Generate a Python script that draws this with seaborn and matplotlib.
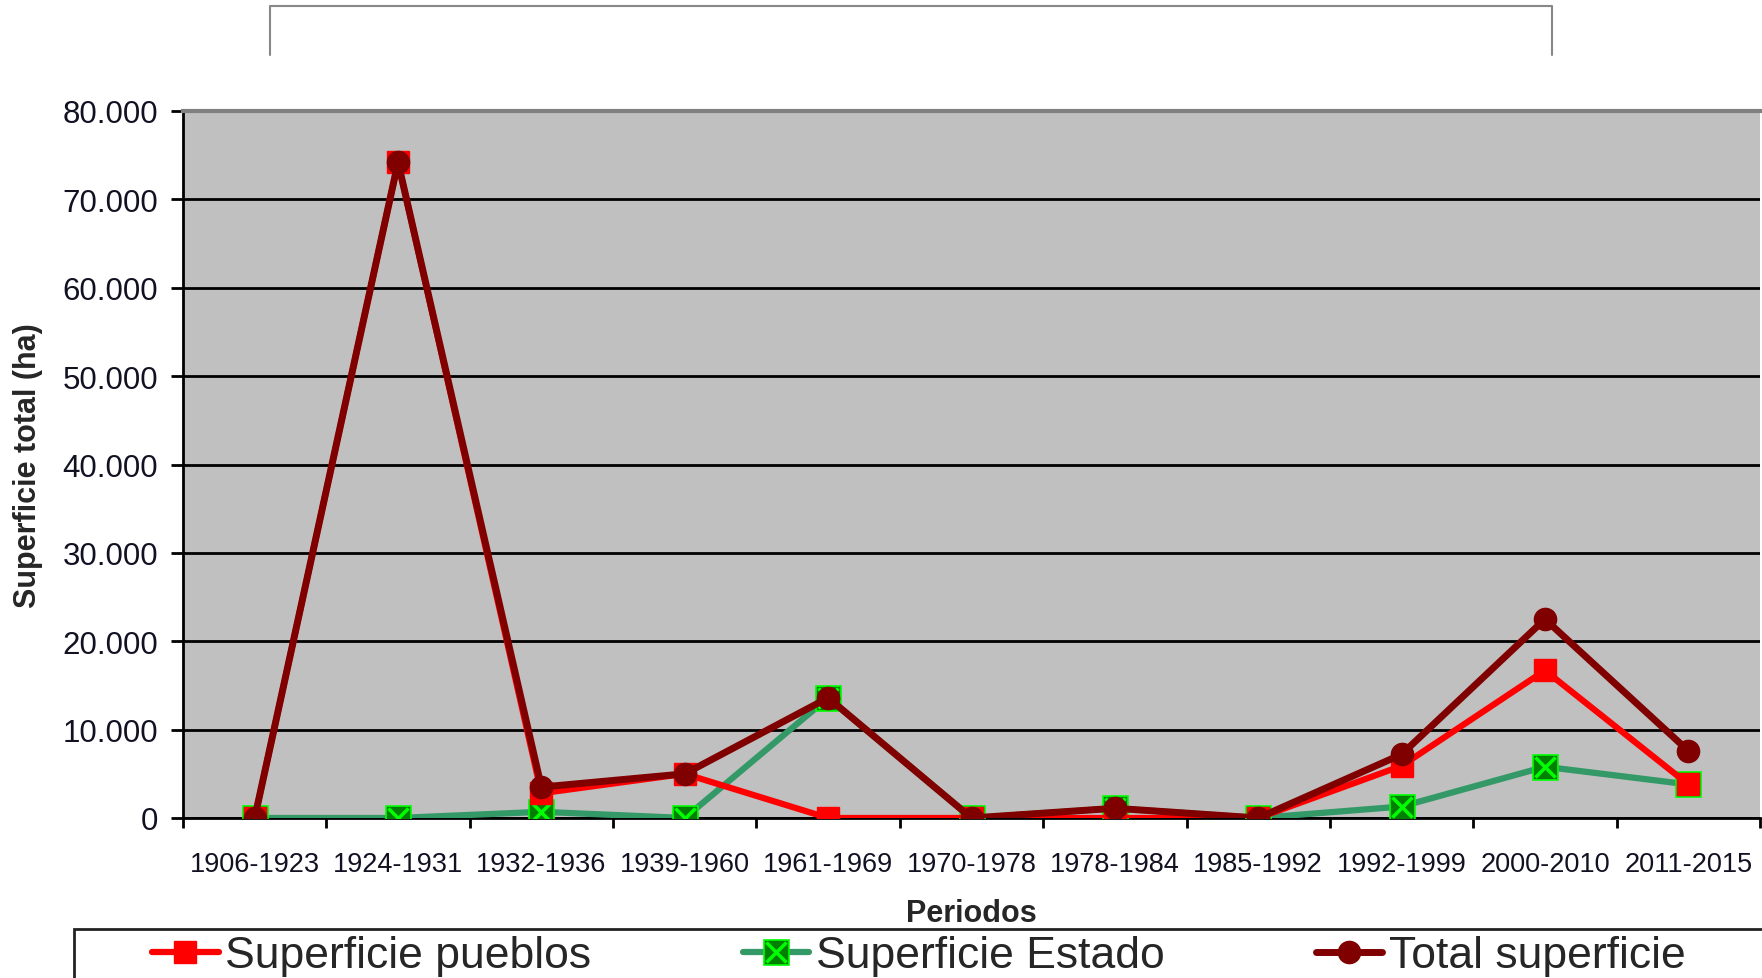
import numpy as np
import pandas as pd
import matplotlib
matplotlib.use('Agg')
import matplotlib.pyplot as plt
import seaborn as sns
from matplotlib.lines import Line2D
from matplotlib.patches import Rectangle
from matplotlib.ticker import FuncFormatter, MultipleLocator, FixedLocator
from matplotlib.legend_handler import HandlerTuple

periodos = ['1906-1923', '1924-1931', '1932-1936', '1939-1960', '1961-1969',
            '1970-1978', '1978-1984', '1985-1992', '1992-1999', '2000-2010',
            '2011-2015']
sup_pueblos = [0, 74200, 2800, 5000, 0, 0, 0, 0, 5900, 16700, 3800]
sup_estado = [0, 0, 700, 0, 13600, 0, 1100, 0, 1300, 5800, 3800]
total_sup = [0, 74200, 3500, 5000, 13600, 0, 1100, 0, 7200, 22500, 7600]

df = pd.DataFrame({
    'pos': np.arange(len(periodos)),
    'pueblos': sup_pueblos,
    'estado': sup_estado,
    'total': total_sup,
})

sns.set_theme(style='white')
plt.rcParams['font.family'] = ['Liberation Sans', 'DejaVu Sans']

W, H = 1762, 979
fig = plt.figure(figsize=(W / 100, H / 100), dpi=100)
ax = fig.add_axes([183 / W, 1 - 819 / H, (1760 - 183) / W, (819 - 112) / H])
ax.set_facecolor('#C0C0C0')

# Superficie Estado: dark green square with a bright green cross
sns.lineplot(data=df, x='pos', y='estado', ax=ax, color='#339966', lw=4.5,
             marker='s', ms=18, mfc='#008000', mec='#00FF00', mew=1.2, zorder=3)
est_line = ax.lines[-1]
sns.lineplot(data=df, x='pos', y='estado', ax=ax, color='#00FF00',
             linestyle='none', marker='x', ms=15, mec='#00FF00', mew=2.5, zorder=3.1)
est_x = ax.lines[-1]

sns.lineplot(data=df, x='pos', y='pueblos', ax=ax, color='#FF0000', lw=4.5,
             marker='s', ms=16.5, mfc='#FF0000', mec='#FF0000', mew=1, zorder=4)
pue_line = ax.lines[-1]

sns.lineplot(data=df, x='pos', y='total', ax=ax, color='#800000', lw=5,
             marker='o', ms=16, mfc='#800000', mec='#800000', mew=1, zorder=5)
tot_line = ax.lines[-1]

ax.set_xlim(-0.5, len(periodos) - 0.5)
ax.set_ylim(0, 80000)
ax.set_xticks(df['pos'])
ax.set_xticklabels(periodos)
ax.xaxis.set_minor_locator(FixedLocator(np.arange(-0.5, len(periodos), 1)))
ax.yaxis.set_major_locator(MultipleLocator(10000))
ax.yaxis.set_major_formatter(
    FuncFormatter(lambda v, p: f'{v:,.0f}'.replace(',', '.')))

ax.tick_params(axis='x', which='major', length=0, pad=24, labelsize=19.5,
               labelcolor='#111122')
ax.tick_params(axis='x', which='minor', length=7, width=2, color='black',
               direction='out', bottom=True)
ax.tick_params(axis='y', length=9, width=2, color='black', direction='out',
               left=True, pad=9, labelsize=22.5, labelcolor='#111122')

ax.grid(axis='y', color='black', lw=2)
ax.set_axisbelow(True)

for side in ['left', 'bottom']:
    ax.spines[side].set_color('black')
    ax.spines[side].set_linewidth(2)
ax.spines['top'].set_color('#808080')
ax.spines['top'].set_linewidth(3)
ax.spines['right'].set_visible(False)

ax.set_xlabel('Periodos', fontsize=22, fontweight='bold')
ax.set_ylabel('Superficie total (ha)', fontsize=22, fontweight='bold')
ax.xaxis.set_label_coords(0.5, -0.113)
ax.yaxis.set_label_coords(-0.0888, 0.5)

# open box at the top of the figure
fig.add_artist(Line2D([270 / W, 270 / W, 1552 / W, 1552 / W],
                      [1 - 56 / H, 1 - 7 / H, 1 - 7 / H, 1 - 56 / H],
                      color='#888888', lw=1.5))

# legend frame, cut by the figure border
fig.add_artist(Rectangle((74 / W, -0.2), 1.0, 0.2 + 1 - 930 / H,
                         transform=fig.transFigure, facecolor='white',
                         edgecolor='#222222', lw=2, clip_on=False))

fig.legend(handles=[pue_line, (est_line, est_x), tot_line],
           labels=['Superficie pueblos', 'Superficie Estado', 'Total superficie'],
           handler_map={tuple: HandlerTuple(ndivide=1, pad=0)},
           loc='center left', bbox_to_anchor=(152 / W, 1 - 957 / H), ncol=3,
           frameon=False, fontsize=32, handlelength=1.5, handletextpad=0.15,
           columnspacing=3.4, borderaxespad=0, borderpad=0)

fig.savefig('out.png', dpi=100)
